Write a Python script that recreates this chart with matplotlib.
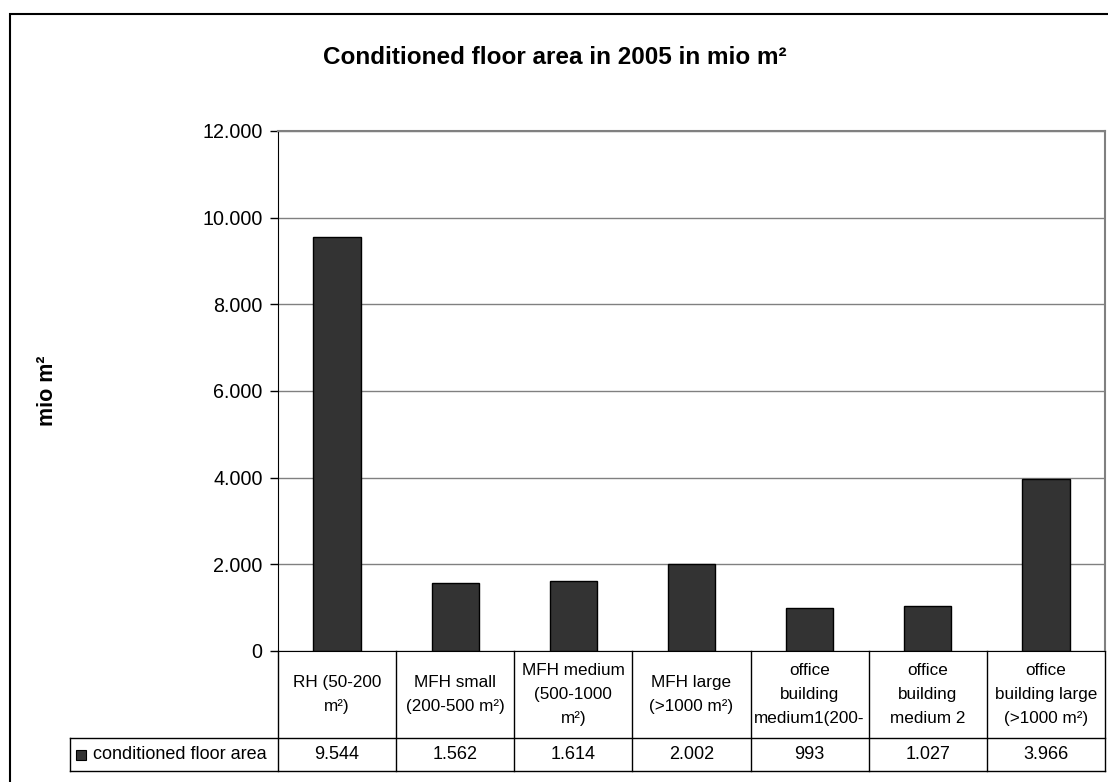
import numpy as np
import matplotlib.pyplot as plt
from matplotlib.patches import Rectangle

plt.rcParams["font.family"] = ["Liberation Sans", "DejaVu Sans"]

# Data
categories = [
    "RH (50-200\nm²)",
    "MFH small\n(200-500 m²)",
    "MFH medium\n(500-1000\nm²)",
    "MFH large\n(>1000 m²)",
    "office\nbuilding\nmedium1(200-",
    "office\nbuilding\nmedium 2",
    "office\nbuilding large\n(>1000 m²)",
]
floor_area = [9544, 1562, 1614, 2002, 993, 1027, 3966]
series_name = "conditioned floor area"
y_ticks = [0, 2000, 4000, 6000, 8000, 10000, 12000]


def de_fmt(v):
    return f"{v:,.0f}".replace(",", ".")


W, H = 1108, 782
fig = plt.figure(figsize=(W / 100, H / 100), dpi=100)

# plot area in pixels: left 278, right 1105, top 131, bottom 651
ax = fig.add_axes([278 / W, 1 - 651 / H, (1105 - 278) / W, (651 - 131) / H])

x = np.arange(len(floor_area))
ax.bar(x, floor_area, width=0.4, color="#333333", edgecolor="black", linewidth=1, zorder=3)

ax.set_xlim(-0.5, len(floor_area) - 0.5)
ax.set_ylim(0, 12000)
ax.set_yticks(y_ticks)
ax.set_yticklabels([de_fmt(v) for v in y_ticks], fontsize=14.2)
ax.yaxis.grid(True, color="#808080", linewidth=1, zorder=0)
ax.set_xticks([])
ax.tick_params(axis="y", direction="out", length=6, width=1, pad=5)

ax.spines["top"].set_color("#808080")
ax.spines["right"].set_color("#808080")
ax.spines["top"].set_linewidth(1.5)
ax.spines["right"].set_linewidth(1.5)
ax.spines["left"].set_color("black")
ax.spines["bottom"].set_color("black")

ax.set_ylabel("mio m²", fontsize=15.5, fontweight="bold", labelpad=0)
ax.yaxis.set_label_coords((58 - 278) / (1105 - 278), 0.5)

fig.text(555 / W, 1 - 57 / H, "Conditioned floor area in 2005 in mio m²",
         ha="center", va="center", fontsize=17.5, fontweight="bold")

# data table below the axis
tr = ax.get_xaxis_transform()
px_per_unit = (1105 - 278) / len(floor_area)
row1 = -(738 - 651) / 520
row2 = -(771 - 651) / 520
left_cell = -0.5 - (278 - 70) / px_per_unit
line_kw = dict(color="black", linewidth=1, transform=tr, clip_on=False)

for k in range(len(floor_area) + 1):
    ax.plot([k - 0.5, k - 0.5], [0, row2], **line_kw)
ax.plot([left_cell, len(floor_area) - 0.5], [row1, row1], **line_kw)
ax.plot([left_cell, len(floor_area) - 0.5], [row2, row2], **line_kw)
ax.plot([left_cell, left_cell], [row1, row2], **line_kw)

for i, (lab, v) in enumerate(zip(categories, floor_area)):
    ax.text(i, row1 / 2, lab, transform=tr, ha="center", va="center",
            fontsize=12.3, linespacing=1.75, clip_on=False)
    ax.text(i, (row1 + row2) / 2, de_fmt(v), transform=tr, ha="center",
            va="center", fontsize=13, clip_on=False)

key_x = -0.5 - (278 - 81) / px_per_unit
ax.plot([key_x], [(row1 + row2) / 2], marker="s", markersize=7, color="#333333",
        markeredgecolor="black", markeredgewidth=0.8, transform=tr, clip_on=False)
ax.text(-0.5 - (278 - 93) / px_per_unit, (row1 + row2) / 2, series_name,
        transform=tr, ha="left", va="center", fontsize=13, clip_on=False)

# chart border
fig.patches.append(Rectangle((10 / W, -0.05), 1.1, 1.05 - 14 / H, transform=fig.transFigure,
                             fill=False, edgecolor="black", linewidth=1.5))

fig.savefig("out.png", dpi=100)
